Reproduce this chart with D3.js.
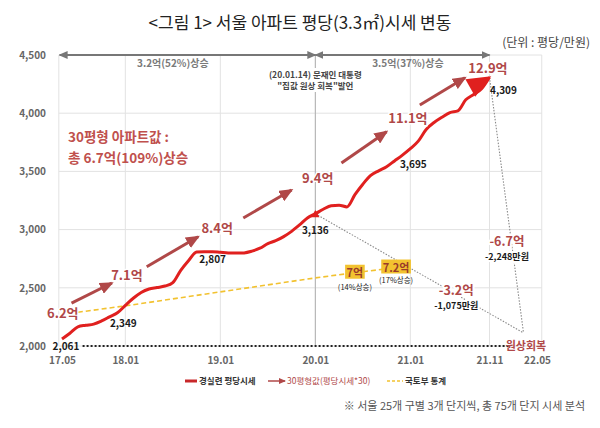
<!DOCTYPE html>
<html>
<head>
<meta charset="utf-8">
<script src="https://cdn.jsdelivr.net/npm/d3@7"></script>
<style>
body { margin: 0; background: #fff; }
text { font-family: "Noto Sans CJK KR", "Noto Sans", sans-serif; }
</style>
</head>
<body>
<svg id="chart" width="600" height="428"></svg>
<script>
// months are counted from 2017.05 (= 0)
var tickMonths = [0, 8, 20, 32, 44, 54, 60];
var tickLabels = ['17.05', '18.01', '19.01', '20.01', '21.01', '21.11', '22.05'];
var yTicks = [2000, 2500, 3000, 3500, 4000, 4500];

// 경실련 평당시세 (만원), one value per month 17.05 .. 21.11
var ccejValues = [2061, 2110, 2165, 2178, 2188, 2215, 2250, 2285, 2349, 2410,
    2460, 2490, 2502, 2515, 2545, 2650, 2735, 2807, 2810, 2810,
    2805, 2800, 2798, 2800, 2815, 2840, 2880, 2905, 2940, 2985,
    3040, 3100, 3136, 3175, 3205, 3210, 3195, 3300, 3390, 3465,
    3505, 3540, 3590, 3640, 3695, 3760, 3860, 3920, 3965, 4005,
    4020, 4115, 4160, 4210, 4309];

// 국토부 통계 (drawn on the same axis)
var molitMonths = [2, 8, 20, 32, 37, 43];
var molitValues = [2290, 2345, 2465, 2585, 2630, 2680];

// 30평형값 labels and arrows
var priceLabels = ['6.2억', '7.1억', '8.4억', '9.4억', '11.1억', '12.9억'];
var priceLabelMonths = [0.1, 8.2, 19.6, 32.3, 43.7, 53.8];
var priceLabelValues = [2283, 2610, 3014, 3443, 3959, 4388];
var arrowStart = [[1.2, 2369], [10.7, 2681], [22.9, 3100], [35.3, 3572], [45.2, 4070]];
var arrowEnd = [[6.3, 2541], [17.2, 2939], [29, 3340], [41, 3841], [50.9, 4305]];

// values written on the line
var markedMonths = [0, 8, 17, 32, 44, 54];
var markedOffsets = [[4, 8], [-2, 18], [16, 7], [0, 17], [3, 16], [14, 13]];

// 국토부 boxes
var molitBoxLabels = ['7억', '7.2억'];
var molitBoxNotes = ['(14%상승)', '(17%상승)'];
var molitBoxMonths = [37, 42.2];

// 원상회복 point
var restoreMonth = 58.3, restoreValue = 2112;

var svg = d3.select('#chart');
var red = '#e0201f', brown = '#b04848', gold = '#f2c230';

var x = d3.scaleLinear().domain([0, 60]).range([62, 537]);
var y = d3.scaleLinear().domain([2000, 4500]).range([346, 55]);

var defs = svg.append('defs');
defs.append('marker')
    .attr('id', 'grayHead')
    .attr('markerUnits', 'userSpaceOnUse')
    .attr('markerWidth', 9).attr('markerHeight', 8)
    .attr('refX', 8).attr('refY', 4)
    .attr('orient', 'auto-start-reverse')
    .append('path').attr('d', 'M0,0L9,4L0,8Z').attr('fill', '#777');
defs.append('marker')
    .attr('id', 'priceHead')
    .attr('markerUnits', 'userSpaceOnUse')
    .attr('markerWidth', 14).attr('markerHeight', 12)
    .attr('refX', 12).attr('refY', 6)
    .attr('orient', 'auto')
    .append('path').attr('d', 'M0,0L14,6L0,12Z').attr('fill', brown);
defs.append('marker')
    .attr('id', 'legendHead')
    .attr('markerUnits', 'userSpaceOnUse')
    .attr('markerWidth', 7).attr('markerHeight', 6)
    .attr('refX', 6).attr('refY', 3)
    .attr('orient', 'auto')
    .append('path').attr('d', 'M0,0L7,3L0,6Z').attr('fill', brown);

// title
svg.append('text')
    .attr('x', 300).attr('y', 29)
    .attr('text-anchor', 'middle')
    .style('font-size', '17px').style('fill', '#222')
    .text('<그림 1> 서울 아파트 평당(3.3㎡)시세 변동');
svg.append('text')
    .attr('x', 590).attr('y', 47)
    .attr('text-anchor', 'end')
    .style('font-size', '12px').style('fill', '#444')
    .text('(단위 : 평당/만원)');

// grid
var grid = svg.append('g').attr('class', 'grid');
grid.selectAll('.hline').data(yTicks).enter().append('line')
    .attr('x1', x(-0.4)).attr('x2', x(60.6))
    .attr('y1', function (d) { return y(d); })
    .attr('y2', function (d) { return y(d); })
    .style('stroke', '#e2e2e2');
grid.selectAll('.vline').data([-0.4].concat(tickMonths.slice(1))).enter().append('line')
    .attr('x1', function (d) { return x(d === 60 ? 60.6 : d); })
    .attr('x2', function (d) { return x(d === 60 ? 60.6 : d); })
    .attr('y1', y(4500)).attr('y2', y(2000))
    .style('stroke', '#e2e2e2');
grid.append('line')
    .attr('x1', x(32)).attr('x2', x(32))
    .attr('y1', y(4500)).attr('y2', y(2000))
    .style('stroke', '#b0b0b0');

// axes labels
var axisY = d3.axisLeft(y).tickValues(yTicks).tickSize(0).tickPadding(0).tickFormat(d3.format(','));
svg.append('g').attr('transform', 'translate(46,0)').call(axisY)
    .call(function (g) { g.select('.domain').remove(); })
    .selectAll('text')
    .style('font-size', '10px').style('font-weight', 'bold').style('fill', '#666')
    .style('font-family', '"Noto Sans CJK KR", sans-serif');

var axisX = d3.axisBottom(x).tickValues(tickMonths).tickSize(0).tickPadding(0)
    .tickFormat(function (d, i) { return tickLabels[i]; });
svg.append('g').attr('transform', 'translate(0,357)').call(axisX)
    .call(function (g) { g.select('.domain').remove(); })
    .selectAll('text')
    .style('font-size', '10px').style('font-weight', 'bold').style('fill', '#666')
    .style('font-family', '"Noto Sans CJK KR", sans-serif');

// top range arrows
var ranges = [[-0.3, 32], [32, 54]];
svg.selectAll('.range').data(ranges).enter().append('line')
    .attr('x1', function (d) { return x(d[0]); })
    .attr('x2', function (d) { return x(d[1]); })
    .attr('y1', y(4500)).attr('y2', y(4500))
    .style('stroke', '#777').style('stroke-width', 2)
    .attr('marker-start', 'url(#grayHead)')
    .attr('marker-end', 'url(#grayHead)');
var rangeTexts = ['3.2억(52%)상승', '3.5억(37%)상승'];
var rangeMid = [14, 43.7];
svg.selectAll('.rangeText').data(rangeTexts).enter().append('text')
    .attr('x', function (d, i) { return x(rangeMid[i]); })
    .attr('y', 67)
    .attr('text-anchor', 'middle')
    .style('font-size', '10px').style('font-weight', 'bold').style('fill', '#7a7a7a')
    .text(function (d) { return d; });

// 20.01.14 note
var note = svg.append('g');
note.append('rect')
    .attr('x', x(32) - 50).attr('y', 68).attr('width', 100).attr('height', 24)
    .style('fill', '#fff');
note.selectAll('text').data(['(20.01.14) 문재인 대통령', '"집값 원상 회복"발언']).enter().append('text')
    .attr('x', x(32)).attr('y', function (d, i) { return 78 + i * 11; })
    .attr('text-anchor', 'middle')
    .style('font-size', '8.5px').style('font-weight', 'bold').style('fill', '#444')
    .text(function (d) { return d; });

// 2000 dotted baseline
svg.append('line')
    .attr('x1', x(2.6)).attr('x2', x(56.5))
    .attr('y1', y(2000)).attr('y2', y(2000))
    .style('stroke', '#222').style('stroke-width', 1.8).style('stroke-dasharray', '2,2');

// grey dotted drops to 원상회복
var drops = [[32, ccejValues[32]], [54, ccejValues[54]]];
svg.selectAll('.drop').data(drops).enter().append('line')
    .attr('x1', function (d) { return x(d[0]); })
    .attr('y1', function (d) { return y(d[1]); })
    .attr('x2', x(restoreMonth)).attr('y2', y(restoreValue))
    .style('stroke', '#8a8a8a').style('stroke-width', 1.1).style('stroke-dasharray', '1.5,1.5');

// 국토부 line
var molitLine = d3.line()
    .x(function (d, i) { return x(molitMonths[i]); })
    .y(function (d) { return y(d); });
svg.append('path')
    .datum(molitValues)
    .attr('d', molitLine)
    .style('fill', 'none').style('stroke', gold).style('stroke-width', 1.6)
    .style('stroke-dasharray', '5,3');

// 경실련 line
var ccejLine = d3.line()
    .x(function (d, i) { return x(i); })
    .y(function (d) { return y(d); })
    .curve(d3.curveMonotoneX);
svg.append('path')
    .datum(ccejValues)
    .attr('d', ccejLine)
    .style('fill', 'none').style('stroke', red).style('stroke-width', 3)
    .style('stroke-linejoin', 'round');

// big arrow head at the end of the line
var last = ccejValues.length - 1;
var tipX = x(last), tipY = y(ccejValues[last]);
var ang = Math.atan2(tipY - y(ccejValues[last - 3]), tipX - x(last - 3)) + 0.25;
var hl = 22, hw = 10;
var bx = tipX - hl * Math.cos(ang), by = tipY - hl * Math.sin(ang);
svg.append('path')
    .attr('d', 'M' + (tipX + 2 * Math.cos(ang)) + ',' + (tipY + 2 * Math.sin(ang)) +
        'L' + (bx - hw * Math.sin(ang)) + ',' + (by + hw * Math.cos(ang)) +
        'L' + (bx + hw * Math.sin(ang)) + ',' + (by - hw * Math.cos(ang)) + 'Z')
    .style('fill', red);

// marker at 3,136
svg.append('path')
    .attr('d', d3.symbol().type(d3.symbolTriangle).size(30))
    .attr('transform', 'translate(' + x(32) + ',' + (y(ccejValues[32]) + 1) + ')')
    .style('fill', red);

// 30평형값 arrows
svg.selectAll('.priceArrow').data(arrowStart).enter().append('line')
    .attr('x1', function (d) { return x(d[0]); })
    .attr('y1', function (d) { return y(d[1]); })
    .attr('x2', function (d, i) { return x(arrowEnd[i][0]); })
    .attr('y2', function (d, i) { return y(arrowEnd[i][1]); })
    .style('stroke', brown).style('stroke-width', 3)
    .attr('marker-end', 'url(#priceHead)');

svg.selectAll('.priceLabel').data(priceLabels).enter().append('text')
    .attr('x', function (d, i) { return x(priceLabelMonths[i]); })
    .attr('y', function (d, i) { return y(priceLabelValues[i]); })
    .attr('dy', '0.35em')
    .attr('text-anchor', 'middle')
    .style('font-size', '13px').style('font-weight', 'bold').style('fill', brown)
    .style('stroke', '#fff').style('stroke-width', 3).style('paint-order', 'stroke')
    .text(function (d) { return d; });

// values on the line
svg.selectAll('.valueLabel').data(markedMonths).enter().append('text')
    .attr('x', function (d, i) { return x(d) + markedOffsets[i][0]; })
    .attr('y', function (d, i) { return y(ccejValues[d]) + markedOffsets[i][1]; })
    .attr('dy', '0.35em')
    .attr('text-anchor', 'middle')
    .style('font-size', '10px').style('font-weight', 'bold').style('fill', '#1a1a1a')
    .text(function (d) { return d3.format(',')(ccejValues[d]); });

// 국토부 boxes
molitBoxLabels.forEach(function (label, i) {
    var m = molitBoxMonths[i];
    var v = d3.interpolateNumber(molitValues[3], molitValues[5])((m - molitMonths[3]) / (molitMonths[5] - molitMonths[3]));
    var g = svg.append('g').attr('transform', 'translate(' + x(m) + ',' + y(v) + ')');
    var t = g.append('text')
        .attr('text-anchor', 'middle').attr('dy', '0.35em')
        .style('font-size', '11px').style('font-weight', 'bold').style('fill', '#9a3b2a')
        .text(label);
    var bb = t.node().getBBox();
    g.insert('rect', 'text')
        .attr('x', bb.x - 1.5).attr('y', bb.y + 1).attr('width', bb.width + 3).attr('height', bb.height - 2)
        .style('fill', gold);
    g.append('text')
        .attr('text-anchor', 'middle').attr('y', 17 - i * 2)
        .style('font-size', '7.5px').style('fill', '#222')
        .text(molitBoxNotes[i]);
});

// decline labels
var drawPair = function (m, v, big, small) {
    svg.append('text')
        .attr('x', x(m)).attr('y', y(v) - 1)
        .attr('text-anchor', 'middle')
        .style('font-size', '12.5px').style('font-weight', 'bold').style('fill', brown)
        .style('stroke', '#fff').style('stroke-width', 4).style('paint-order', 'stroke')
        .text(big);
    svg.append('text')
        .attr('x', x(m)).attr('y', y(v) + 13)
        .attr('text-anchor', 'middle')
        .style('font-size', '9px').style('font-weight', 'bold').style('fill', '#1a1a1a')
        .style('stroke', '#fff').style('stroke-width', 4).style('paint-order', 'stroke')
        .text(small);
};
drawPair(49.8, 2430, '-3.2억', '-1,075만원');
drawPair(56.2, 2850, '-6.7억', '-2,248만원');

svg.append('text')
    .attr('x', x(58.6)).attr('y', y(2000)).attr('dy', '0.35em')
    .attr('text-anchor', 'middle')
    .style('font-size', '11px').style('font-weight', 'bold').style('fill', brown)
    .text('원상회복');

// 30평형 summary
svg.selectAll('.summary').data(['30평형 아파트값 :', '총 6.7억(109%)상승']).enter().append('text')
    .attr('x', 68).attr('y', function (d, i) { return 142 + i * 21; })
    .style('font-size', '13.5px').style('font-weight', 'bold').style('fill', '#c0504d')
    .text(function (d) { return d; });

// legend
var lg = svg.append('g').attr('transform', 'translate(0,381)');
lg.append('line').attr('x1', 185).attr('x2', 197).style('stroke', '#c8282a').style('stroke-width', 3);
lg.append('text').attr('x', 199).attr('dy', '0.35em')
    .style('font-size', '8.5px').style('font-weight', 'bold').style('fill', '#333').text('경실련 평당시세');
lg.append('line').attr('x1', 268).attr('x2', 285).style('stroke', brown).style('stroke-width', 1.5)
    .attr('marker-end', 'url(#legendHead)');
lg.append('text').attr('x', 287).attr('dy', '0.35em')
    .style('font-size', '8.5px').style('fill', brown).text('30평형값(평당시세*30)');
lg.append('line').attr('x1', 387).attr('x2', 403).style('stroke', gold).style('stroke-width', 1.5)
    .style('stroke-dasharray', '3,2');
lg.append('text').attr('x', 405).attr('dy', '0.35em')
    .style('font-size', '8.5px').style('font-weight', 'bold').style('fill', '#333').text('국토부 통계');

// footnote
svg.append('text')
    .attr('x', 585).attr('y', 410)
    .attr('text-anchor', 'end')
    .style('font-size', '11px').style('fill', '#555')
    .text('※ 서울 25개 구별 3개 단지씩, 총 75개 단지 시세 분석');
</script>
</body>
</html>
